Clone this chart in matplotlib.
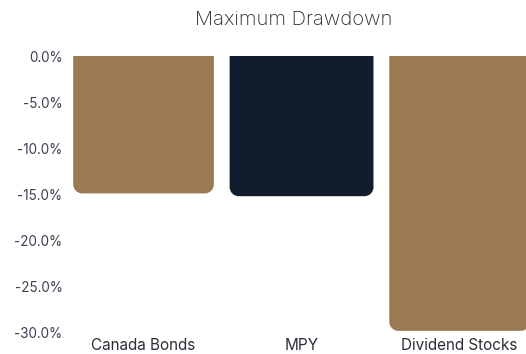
import matplotlib
matplotlib.use("Agg")
import matplotlib.pyplot as plt
from matplotlib.path import Path
from matplotlib.patches import PathPatch

categories = ["Canada Bonds", "MPY", "Dividend Stocks"]
drawdown = [-14.9, -15.2, -29.8]
colors = ["#9A7A51", "#111C2D", "#9A7A51"]
yticks = [0, -5, -10, -15, -20, -25, -30]

plt.rcParams['font.family'] = ['Inter', 'DejaVu Sans']

fig = plt.figure(figsize=(5.26, 3.54), dpi=100)
ax = fig.add_axes([64.5/526, 1-332.7/354, 1-64.5/526, (332.7-56)/354])

bars = ax.bar(range(len(categories)), drawdown, width=0.89, color=colors)
ax.set_xlim(-0.5, 2.42)
ax.set_ylim(-30, 0)

# Replace rectangles with bottom-rounded shapes
rpx = 9.0
ppx_x = (526-64.5)/(2.42+0.5)
ppx_y = (332.7-56)/30
rx, ry = rpx/ppx_x, rpx/ppx_y
k = 0.5523
for b, c in zip(bars, colors):
    x0 = b.get_x(); w = b.get_width(); x1 = x0 + w
    top = 0; bot = b.get_height()
    if c == "#111C2D":
        x0 -= 0.01; x1 += 0.01
    verts = [
        (x0, top), (x0, bot+ry),
        (x0, bot+ry*(1-k)), (x0+rx*(1-k), bot), (x0+rx, bot),
        (x1-rx, bot),
        (x1-rx*(1-k), bot), (x1, bot+ry*(1-k)), (x1, bot+ry),
        (x1, top), (x0, top)]
    codes = [Path.MOVETO, Path.LINETO,
             Path.CURVE4, Path.CURVE4, Path.CURVE4,
             Path.LINETO,
             Path.CURVE4, Path.CURVE4, Path.CURVE4,
             Path.LINETO, Path.CLOSEPOLY]
    b.set_visible(False)
    ax.add_patch(PathPatch(Path(verts, codes), facecolor=c, edgecolor='none', clip_on=False))

ax.set_yticks(yticks)
ax.set_yticklabels([f"{v:.1f}%" for v in yticks])
ax.set_xticks(range(len(categories)))
ax.set_xticklabels(categories)
ax.tick_params(axis='y', length=0, pad=1.5, labelsize=9.7, labelcolor="#3B4150")
ax.tick_params(axis='x', length=0, pad=4, labelsize=11, labelcolor="#2A2E38")
for s in ax.spines.values():
    s.set_visible(False)

fig.text(294/526, 1-20/354, "Maximum Drawdown", ha='center', va='center',
         fontsize=14.5, color="#2A2A2A", fontweight='light')

fig.savefig("out.png", dpi=100)
